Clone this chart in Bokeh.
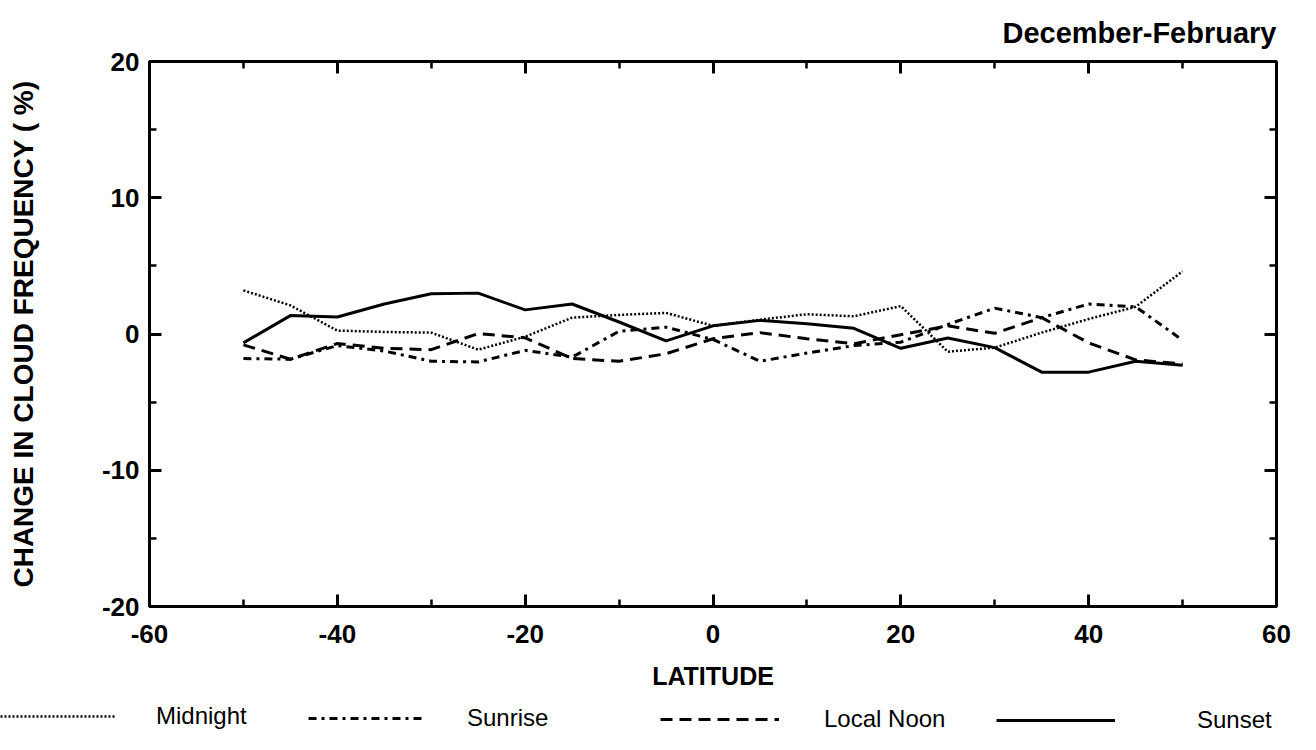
from bokeh.plotting import figure
from bokeh.models import Range1d, LinearAxis, Legend, LegendItem, FixedTicker
from bokeh.embed import file_html
from bokeh.resources import INLINE

# ---- data ----
latitude = [-50, -45, -40, -35, -30, -25, -20, -15, -10, -5, 0,
            5, 10, 15, 20, 25, 30, 35, 40, 45, 50]
midnight = [3.2, 2.1, 0.25, 0.15, 0.1, -1.15, -0.2, 1.2, 1.4, 1.55, 0.6,
            1.05, 1.45, 1.3, 2.05, -1.3, -1.0, 0.1, 1.1, 2.0, 4.6]
sunrise = [-1.8, -1.85, -0.85, -1.25, -2.0, -2.05, -1.2, -1.7, 0.2, 0.5, -0.4,
           -2.0, -1.4, -0.85, -0.6, 0.7, 1.9, 1.2, 2.2, 2.0, -0.45]
local_noon = [-0.8, -1.85, -0.7, -1.05, -1.15, 0.03, -0.28, -1.8, -2.0, -1.45, -0.35,
              0.1, -0.35, -0.72, -0.05, 0.6, 0.05, 1.2, -0.65, -1.9, -2.2]
sunset = [-0.65, 1.35, 1.25, 2.2, 2.95, 3.0, 1.77, 2.2, 0.88, -0.5, 0.6,
          1.0, 0.75, 0.42, -1.05, -0.3, -1.0, -2.8, -2.8, -2.0, -2.3]

x_ticks = [-60, -40, -20, 0, 20, 40, 60]
x_tick_labels = ["-60", "-40", "-20", "0", "20", "40", "60"]
y_ticks = [-20, -10, 0, 10, 20]
y_tick_labels = ["-20", "-10", "0", "10", "20"]
series_names = ["Midnight", "Sunrise", "Local Noon", "Sunset"]
title_text = "December-February"
x_label = "LATITUDE"
y_label = "CHANGE IN CLOUD FREQUENCY ( %)"

FONT = "Liberation Sans"

# line styles per series
styles = [
    dict(line_color="black", line_width=2.5, line_dash="2 2"),
    dict(line_color="black", line_width=3, line_dash="8 5 3 5"),
    dict(line_color="black", line_width=3, line_dash="12 7"),
    dict(line_color="black", line_width=3),
]

p = figure(width=1300, height=696, output_backend="svg", toolbar_location=None,
           x_range=Range1d(-60, 60), y_range=Range1d(-20, 20),
           min_border_left=149, min_border_right=24,
           min_border_top=61, min_border_bottom=90)
p.background_fill_color = "white"
p.border_fill_color = "white"
p.outline_line_color = "black"
p.outline_line_width = 3
p.xgrid.visible = False
p.ygrid.visible = False

p.title.text = title_text
p.title.align = "right"
p.title.text_font = FONT
p.title.text_font_style = "bold"
p.title.text_font_size = "29px"
p.title.text_color = "black"
p.title.standoff = 26


def style_axis(ax, ticks, minor, labels):
    ax.ticker = FixedTicker(ticks=ticks, minor_ticks=minor)
    ax.axis_line_color = "black"
    ax.axis_line_width = 3
    ax.major_tick_line_color = "black"
    ax.major_tick_line_width = 3
    ax.minor_tick_line_color = "black"
    ax.minor_tick_line_width = 2.5
    ax.major_tick_in = 12
    ax.major_tick_out = 0
    ax.minor_tick_in = 7
    ax.minor_tick_out = 0
    if labels is not None:
        ax.major_label_overrides = dict(zip(ticks, labels))
        ax.major_label_text_font = FONT
        ax.major_label_text_font_style = "bold"
        ax.major_label_text_font_size = "26px"
        ax.major_label_text_color = "black"
    else:
        ax.major_label_text_font_size = "0px"
        ax.major_label_text_color = None
        ax.major_label_standoff = 0


x_minor = list(range(-60, 61, 10))
y_minor = list(range(-20, 21, 5))

xa = p.xaxis[0]
style_axis(xa, x_ticks, x_minor, x_tick_labels)
xa.major_label_standoff = 18
xa.axis_label = x_label
xa.axis_label_text_font = FONT
xa.axis_label_text_font_style = "bold"
xa.axis_label_text_font_size = "25px"
xa.axis_label_text_color = "black"
xa.axis_label_standoff = 16

ya = p.yaxis[0]
style_axis(ya, y_ticks, y_minor, y_tick_labels)
ya.major_label_standoff = 10
ya.axis_label = y_label
ya.axis_label_text_font = FONT
ya.axis_label_text_font_style = "bold"
ya.axis_label_text_font_size = "28px"
ya.axis_label_text_color = "black"
ya.axis_label_standoff = 60

top = LinearAxis()
style_axis(top, x_ticks, x_minor, None)
p.add_layout(top, "above")
right = LinearAxis()
style_axis(right, y_ticks, y_minor, None)
p.add_layout(right, "right")

series = [midnight, sunrise, local_noon, sunset]
for vals, st in zip(series, styles):
    p.line(latitude, vals, **st)

# ---- legend strip below the chart (separate root, full width frame) ----
q = figure(width=1300, height=38, output_backend="svg", toolbar_location=None,
           x_range=Range1d(0, 1), y_range=Range1d(1000, 1001),
           min_border_left=0, min_border_right=0, min_border_top=0, min_border_bottom=0)
q.axis.visible = False
q.xgrid.visible = False
q.ygrid.visible = False
q.outline_line_color = None
q.background_fill_color = "white"
q.border_fill_color = "white"

# (x offset, glyph width, label standoff, y offset) for each legend entry
legend_specs = [(0, 115, 41, 4), (308, 114, 45, 2), (660, 119, 45, 1), (996, 119, 82, 0)]
for name, vals, st, (lx, gw, stand, ly) in zip(series_names, series, styles, legend_specs):
    sample = q.line(latitude, vals, **st)   # out of view: only its legend swatch shows
    lg = Legend(items=[LegendItem(label=name, renderers=[sample])],
                location=(lx, ly), orientation="horizontal",
                glyph_width=gw, glyph_height=20, label_standoff=stand,
                padding=0, margin=0, spacing=0,
                border_line_color=None, background_fill_alpha=0,
                label_text_font=FONT, label_text_font_size="24px",
                label_text_color="black")
    q.add_layout(lg, "center")

open("out.html", "w").write(file_html([p, q], INLINE))
